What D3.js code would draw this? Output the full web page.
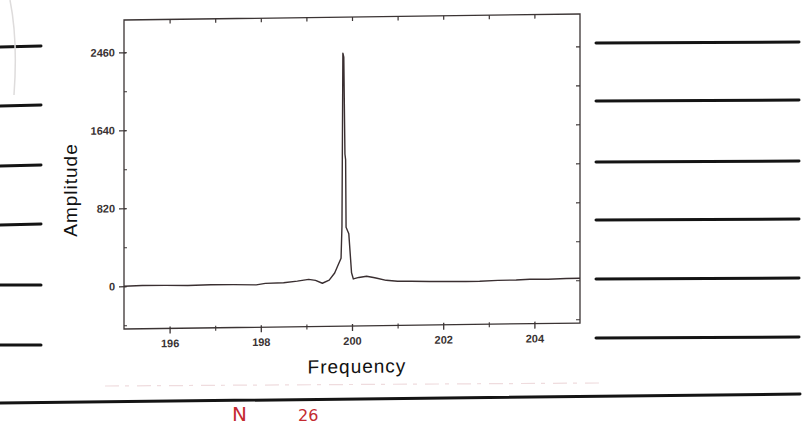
<!DOCTYPE html>
<html>
<head>
<meta charset="utf-8">
<script src="https://cdn.jsdelivr.net/npm/d3@7"></script>
<style>
  body { margin: 0; background: #fff; }
  svg { display: block; }
  .tick-label { font-family: "Liberation Sans", Arial, sans-serif; font-size: 11px; font-weight: bold; fill: #3a3333; }
  .axis-title { font-family: "Liberation Sans", Arial, sans-serif; font-size: 19px; fill: #111; letter-spacing: 1px; }
</style>
</head>
<body>
<div id="chart"></div>
<script>
// spectrum
var frequency = [195.0, 195.4, 195.9, 196.4, 196.9, 197.4, 197.9, 198.1, 198.5, 198.8,
  199.05, 199.2, 199.35, 199.5, 199.62, 199.7, 199.76, 199.78, 199.8, 199.82,
  199.845, 199.86, 199.87, 199.93, 199.99, 200.03, 200.15, 200.32, 200.5, 200.75,
  201.0, 201.3, 201.7, 202.1, 202.5, 202.8, 203.2, 203.6, 203.9, 204.3, 204.7, 205.0];
var amplitude = [0, 5, 3, -2, 4, 2, -4, 10, 15, 30,
  47, 35, 4, 35, 110, 200, 265, 600, 2420, 2380,
  1360, 1300, 590, 520, 110, 45, 60, 72, 55, 26,
  15, 13, 8, 5, 3, 3, 10, 12, 17, 15, 20, 21];

var xTicks = [196, 198, 200, 202, 204];
var xMinorTicks = [196, 197, 198, 199, 200, 201, 202, 203, 204];
var yTicks = [0, 820, 1640, 2460];
var yMinorTicks = [-410, 0, 410, 820, 1230, 1640, 2050, 2460];

var W = 810, H = 428;
var margin = {left: 124, top: 20};
var plotW = 456, plotH = 309;

var svg = d3.select('#chart').append('svg')
  .attr('width', W)
  .attr('height', H);

// ruled notebook lines behind the printout
var paper = svg.append('g').attr('stroke', '#141414').attr('stroke-width', 3).attr('stroke-linecap', 'round');
[47, 106, 166, 225, 285, 345].forEach(function(y, i) {
  paper.append('line').attr('x1', -2).attr('x2', 41).attr('y1', y).attr('y2', y - 1 + (i > 3 ? 1 : 0));
});
[42, 100, 161, 219, 278, 337].forEach(function(y) {
  paper.append('line').attr('x1', 596).attr('x2', 799).attr('y1', y + 1).attr('y2', y);
});
paper.append('line').attr('x1', -2).attr('x2', 800).attr('y1', 403).attr('y2', 394);

// faint fold of the page and edge of the printout
svg.append('path')
  .attr('d', 'M10,0 Q18,40 14,95')
  .attr('fill', 'none').attr('stroke', '#dedcdc').attr('stroke-width', 1.5);
svg.append('line')
  .attr('x1', 105).attr('x2', 600).attr('y1', 386).attr('y2', 383)
  .attr('stroke', '#efdcde').attr('stroke-width', 1.2).attr('stroke-dasharray', '14,6,4,8');

// handwritten note in red
svg.append('text')
  .attr('x', 232).attr('y', 421)
  .attr('font-family', '"DejaVu Sans", sans-serif')
  .attr('font-size', 20)
  .attr('fill', '#c42a30')
  .text('N');
svg.append('text')
  .attr('x', 298).attr('y', 421)
  .attr('font-family', '"DejaVu Sans", sans-serif')
  .attr('font-size', 16)
  .attr('fill', '#c42a30')
  .text('26');

// printed chart, slightly sheared as in the photo
var g = svg.append('g')
  .attr('transform', 'translate(' + margin.left + ',' + margin.top + ') skewY(-0.75)');

var x = d3.scaleLinear().domain([195, 205]).range([0, plotW]);
var y = d3.scaleLinear().domain([-450, 2800]).range([plotH, 0]);

var axisColor = '#3b3434';

// frame
g.append('rect')
  .attr('width', plotW).attr('height', plotH)
  .attr('fill', 'none').attr('stroke', axisColor).attr('stroke-width', 1.3);

// bottom axis
var xAxis = d3.axisBottom(x).tickValues(xTicks).tickSize(5).tickPadding(6).tickFormat(d3.format('d'));
var gx = g.append('g').attr('transform', 'translate(0,' + plotH + ')').call(xAxis);
gx.select('.domain').remove();
gx.selectAll('.tick line').attr('stroke', axisColor).attr('stroke-width', 1.3).attr('y1', -2);
gx.selectAll('.tick text').attr('class', 'tick-label');

var xMinor = d3.axisBottom(x).tickValues(xMinorTicks.filter(function(d) { return xTicks.indexOf(d) < 0; })).tickSize(3).tickFormat('');
var gxm = g.append('g').attr('transform', 'translate(0,' + plotH + ')').call(xMinor);
gxm.select('.domain').remove();
gxm.selectAll('.tick line').attr('stroke', axisColor).attr('stroke-width', 1.1).attr('y1', -2);

// top axis, inward ticks
var xTop = d3.axisTop(x).tickValues(xMinorTicks).tickSize(-4).tickFormat('');
var gxt = g.append('g').call(xTop);
gxt.select('.domain').remove();
gxt.selectAll('.tick line').attr('stroke', axisColor).attr('stroke-width', 1.2);

// left axis
var yAxis = d3.axisLeft(y).tickValues(yTicks).tickSize(5).tickPadding(4).tickFormat(d3.format('d'));
var gy = g.append('g').call(yAxis);
gy.select('.domain').remove();
gy.selectAll('.tick line').attr('stroke', axisColor).attr('stroke-width', 1.2).attr('x1', 2);
gy.selectAll('.tick text').attr('class', 'tick-label');

var yMinor = d3.axisLeft(y).tickValues(yMinorTicks).tickSize(-3).tickFormat('');
var gym = g.append('g').call(yMinor);
gym.select('.domain').remove();
gym.selectAll('.tick line').attr('stroke', axisColor).attr('stroke-width', 1);

// right axis, inward ticks
var yRight = d3.axisRight(y).tickValues(yMinorTicks).tickSize(-4).tickFormat('');
var gyr = g.append('g').attr('transform', 'translate(' + plotW + ',0)').call(yRight);
gyr.select('.domain').remove();
gyr.selectAll('.tick line').attr('stroke', axisColor).attr('stroke-width', 1.1);

// spectrum trace
var data = frequency.map(function(f, i) { return {key: f, value: amplitude[i]}; });
var line = d3.line()
  .x(function(d) { return x(d.key); })
  .y(function(d) { return y(d.value); });

g.append('path')
  .datum(data)
  .attr('fill', 'none')
  .attr('stroke', '#3a2f31')
  .attr('stroke-width', 1.4)
  .attr('stroke-linejoin', 'round')
  .attr('d', line);

// axis titles
g.append('text')
  .attr('class', 'axis-title')
  .attr('text-anchor', 'middle')
  .attr('x', plotW / 2 + 5)
  .attr('y', plotH + 47)
  .text('Frequency');

svg.append('text')
  .attr('class', 'axis-title')
  .attr('text-anchor', 'middle')
  .attr('transform', 'translate(77,190) rotate(-90)')
  .text('Amplitude');
</script>
</body>
</html>
